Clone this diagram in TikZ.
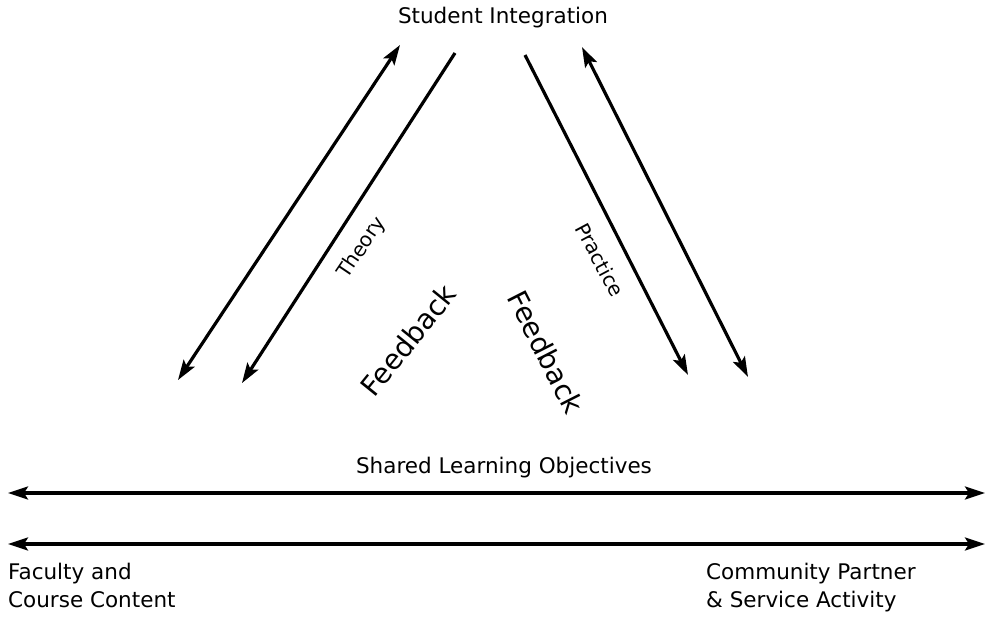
\documentclass[tikz,border=0pt]{standalone}
\usepackage{fontspec}
\setmainfont{DejaVu Sans}
\usetikzlibrary{arrows.meta}
\begin{document}
\begin{tikzpicture}[x=1pt,y=-1pt,
  tip/.tip={Stealth[length=20pt,width=13pt,inset=4pt]},
  flow/.style={line width=3.2pt,tip-tip},
  oneway/.style={line width=3.2pt,-tip},
  label/.style={inner sep=0pt,font=\fontsize{21.5}{26}\selectfont},
  small/.style={inner sep=0pt,font=\fontsize{20}{24}\selectfont},
  big/.style={inner sep=0pt,font=\fontsize{28}{32}\selectfont},
  corner/.style={inner sep=0pt,align=left,anchor=north west,font=\fontsize{21.5}{28}\selectfont}]
\useasboundingbox (0,0) rectangle (985,619);

% headings and side labels
\node[label] (si) at (503,18) {Student Integration};
\node[label] (slo) at (504,468) {Shared Learning Objectives};
\node[corner] (fac) at (8,563) {Faculty and\\Course Content};
\node[corner] (com) at (706,563) {Community Partner\\\& Service Activity};

% diagonal arrow end points
\coordinate (lo1) at (178,380);
\coordinate (lo2) at (400,45);
\coordinate (li1) at (455,53);
\coordinate (li2) at (242,383);
\coordinate (ri1) at (525,55);
\coordinate (ri2) at (688,375);
\coordinate (ro1) at (748,377);
\coordinate (ro2) at (582,47);

% horizontal arrow end points
\coordinate (h1a) at (8,493);
\coordinate (h1b) at (985,493);
\coordinate (h2a) at (8,544);
\coordinate (h2b) at (985,544);

% connectors
\draw[flow] (lo1) -- (lo2);
\draw[oneway] (li1) -- (li2);
\draw[oneway] (ri1) -- (ri2);
\draw[flow] (ro1) -- (ro2);
\draw[flow] (h1a) -- (h1b);
\draw[flow] (h2a) -- (h2b);

% labels along the diagonals
\node[small,rotate=56] (th) at (362,248) {Theory};
\node[small,rotate=-62] (pr) at (600,260) {Practice};
\node[big,rotate=51] (fb1) at (408,340) {Feedback};
\node[big,rotate=-63] (fb2) at (546,352) {Feedback};
\end{tikzpicture}
\end{document}
